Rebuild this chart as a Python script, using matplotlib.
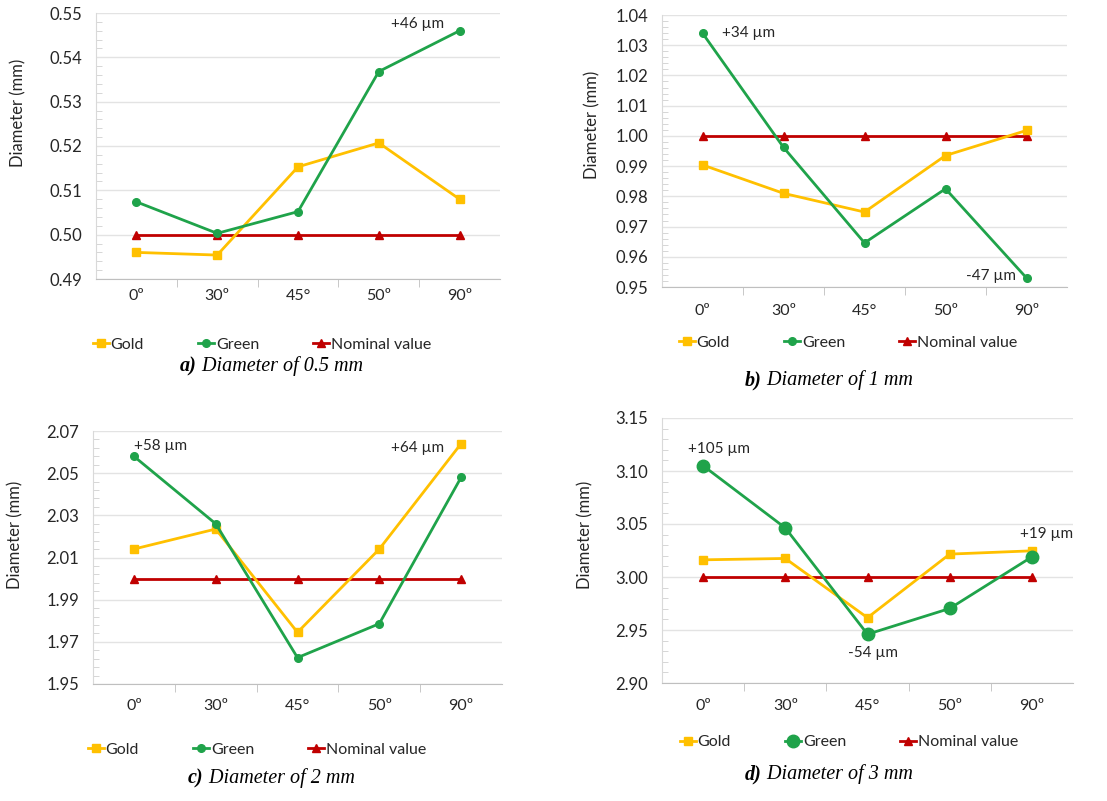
import matplotlib
matplotlib.use("Agg")
import matplotlib.pyplot as plt
from matplotlib.ticker import FixedLocator, FormatStrFormatter

angles = ["0º", "30º", "45°", "50º", "90º"]

gold_05 = [0.496, 0.4954, 0.5153, 0.5207, 0.508]
green_05 = [0.5074, 0.5003, 0.5052, 0.5368, 0.546]
gold_1 = [0.9904, 0.981, 0.9748, 0.9935, 1.0018]
green_1 = [1.034, 0.9962, 0.9646, 0.9825, 0.953]
gold_2 = [2.014, 2.0235, 1.9745, 2.014, 2.064]
green_2 = [2.058, 2.026, 1.9625, 1.9786, 2.048]
gold_3 = [3.0162, 3.0175, 2.9616, 3.0216, 3.0247]
green_3 = [3.105, 3.0463, 2.946, 2.9703, 3.019]
nominal = [0.5, 1.0, 2.0, 3.0]

captions = [("a)", "Diameter of 0.5 mm"), ("b)", "Diameter of 1 mm"),
            ("c)", "Diameter of 2 mm"), ("d)", "Diameter of 3 mm")]

GOLD = "#ffc000"
GREEN = "#1fa34a"
RED = "#c00000"
TXT = "#262626"

W, H = 1107, 801
plt.rcParams["font.family"] = ["Lato", "DejaVu Sans"]

fig = plt.figure(figsize=(W / 100, H / 100), dpi=100)


def rect(l, t, r, b):
    return [l / W, 1 - b / H, (r - l) / W, (b - t) / H]


def fx(x, y):
    return (x / W, 1 - y / H)


def steps(lo, hi, step):
    n = int(round((hi - lo) / step))
    return [lo + k * step for k in range(n + 1)]


panels = [
    dict(box=(96, 13, 500, 279), gold=gold_05, green=green_05, nom=nominal[0],
         ylim=(0.49, 0.55), major=0.01, minor=0.002, gsize=5.5, xpad=7,
         ylab=(18, 113), leg=(93, 345), cap=(180, 366),
         notes=[(green_05, 4, (-42, 7), "center")]),
    dict(box=(662, 15, 1067, 287), gold=gold_1, green=green_1, nom=nominal[1],
         ylim=(0.95, 1.04), major=0.01, minor=0.002, gsize=5.5, xpad=12,
         ylab=(592, 125), leg=(679, 343), cap=(745, 380),
         notes=[(green_1, 0, (19, 0), "left"), (green_1, 4, (-35, 2), "center")]),
    dict(box=(93, 431, 502, 684), gold=gold_2, green=green_2, nom=nominal[2],
         ylim=(1.95, 2.07), major=0.02, minor=0.004, gsize=5.5, xpad=11,
         ylab=(15, 535), leg=(88, 750), cap=(188, 778),
         notes=[(green_2, 0, (0, 10), "left"), (gold_2, 4, (-44, -4), "center")]),
    dict(box=(662, 418, 1073, 683), gold=gold_3, green=green_3, nom=nominal[3],
         ylim=(2.90, 3.15), major=0.05, minor=0.01, gsize=9, xpad=11.5,
         ylab=(585, 535), leg=(680, 742), cap=(745, 774),
         notes=[(green_3, 0, (16, 17), "center"), (green_3, 4, (15, 23), "center"),
                (green_3, 2, (5, -19), "center")]),
]

x = list(range(len(angles)))

for p, (lab, cap) in zip(panels, captions):
    ax = fig.add_axes(rect(*p["box"]))
    lg, = ax.plot(x, p["gold"], color=GOLD, lw=2, marker="s", ms=6, label="Gold", zorder=3)
    lr, = ax.plot(x, [p["nom"]] * len(x), color=RED, lw=2, marker="^", ms=6,
                  label="Nominal value", zorder=2)
    lgr, = ax.plot(x, p["green"], color=GREEN, lw=2, marker="o", ms=p["gsize"],
                   label="Green", zorder=4)

    lo, hi = p["ylim"]
    ax.set_xlim(-0.5, len(x) - 0.5)
    ax.set_ylim(lo, hi)
    ax.set_xticks(x)
    ax.set_xticklabels(angles)
    ax.xaxis.set_minor_locator(FixedLocator([i + 0.5 for i in x[:-1]]))
    ax.yaxis.set_major_locator(FixedLocator(steps(lo, hi, p["major"])))
    ax.yaxis.set_minor_locator(FixedLocator(steps(lo, hi, p["minor"])))
    ax.yaxis.set_major_formatter(FormatStrFormatter("%.2f"))
    ax.tick_params(axis="x", which="major", length=0, pad=p["xpad"], labelsize=11.5,
                   labelcolor=TXT)
    ax.tick_params(axis="x", which="minor", length=6, color="#bfbfbf", direction="out")
    ax.tick_params(axis="y", which="major", length=0, pad=10, labelsize=12, labelcolor=TXT)
    ax.tick_params(axis="y", which="minor", length=4, color="#d0d0d0", direction="in")
    ax.grid(axis="y", which="major", color="#e3e3e3", lw=1)
    ax.set_axisbelow(True)
    for s in ("top", "right"):
        ax.spines[s].set_visible(False)
    ax.spines["left"].set_color("#d9d9d9")
    ax.spines["bottom"].set_color("#bfbfbf")

    fig.text(*fx(*p["ylab"]), "Diameter (mm)", rotation=90, ha="center", va="center",
             fontsize=12, color=TXT)

    # deviation from the nominal diameter, in micrometres
    for series, i, off, ha in p["notes"]:
        dev = (series[i] - p["nom"]) * 1000
        ax.annotate(f"{dev:+.0f} µm", xy=(x[i], series[i]), xytext=off,
                    textcoords="offset pixels", ha=ha, va="center",
                    fontsize=11, color=TXT, zorder=6)

    fig.legend(handles=[lg, lgr, lr], loc="center left", bbox_to_anchor=fx(*p["leg"]),
               ncol=3, frameon=False, fontsize=11.5, handlelength=1.0,
               handletextpad=0.1, columnspacing=3.4, borderpad=0, borderaxespad=0,
               labelcolor=TXT)

    t1 = fig.text(*fx(*p["cap"]), lab, fontsize=14.5, family="Liberation Serif",
                  style="italic", weight="bold", va="center", ha="left")
    ax.annotate(" " + cap, xy=(1, 0), xycoords=t1, va="bottom", ha="left",
                fontsize=14.5, family="Liberation Serif", style="italic",
                annotation_clip=False)

fig.savefig("out.png", dpi=100)
